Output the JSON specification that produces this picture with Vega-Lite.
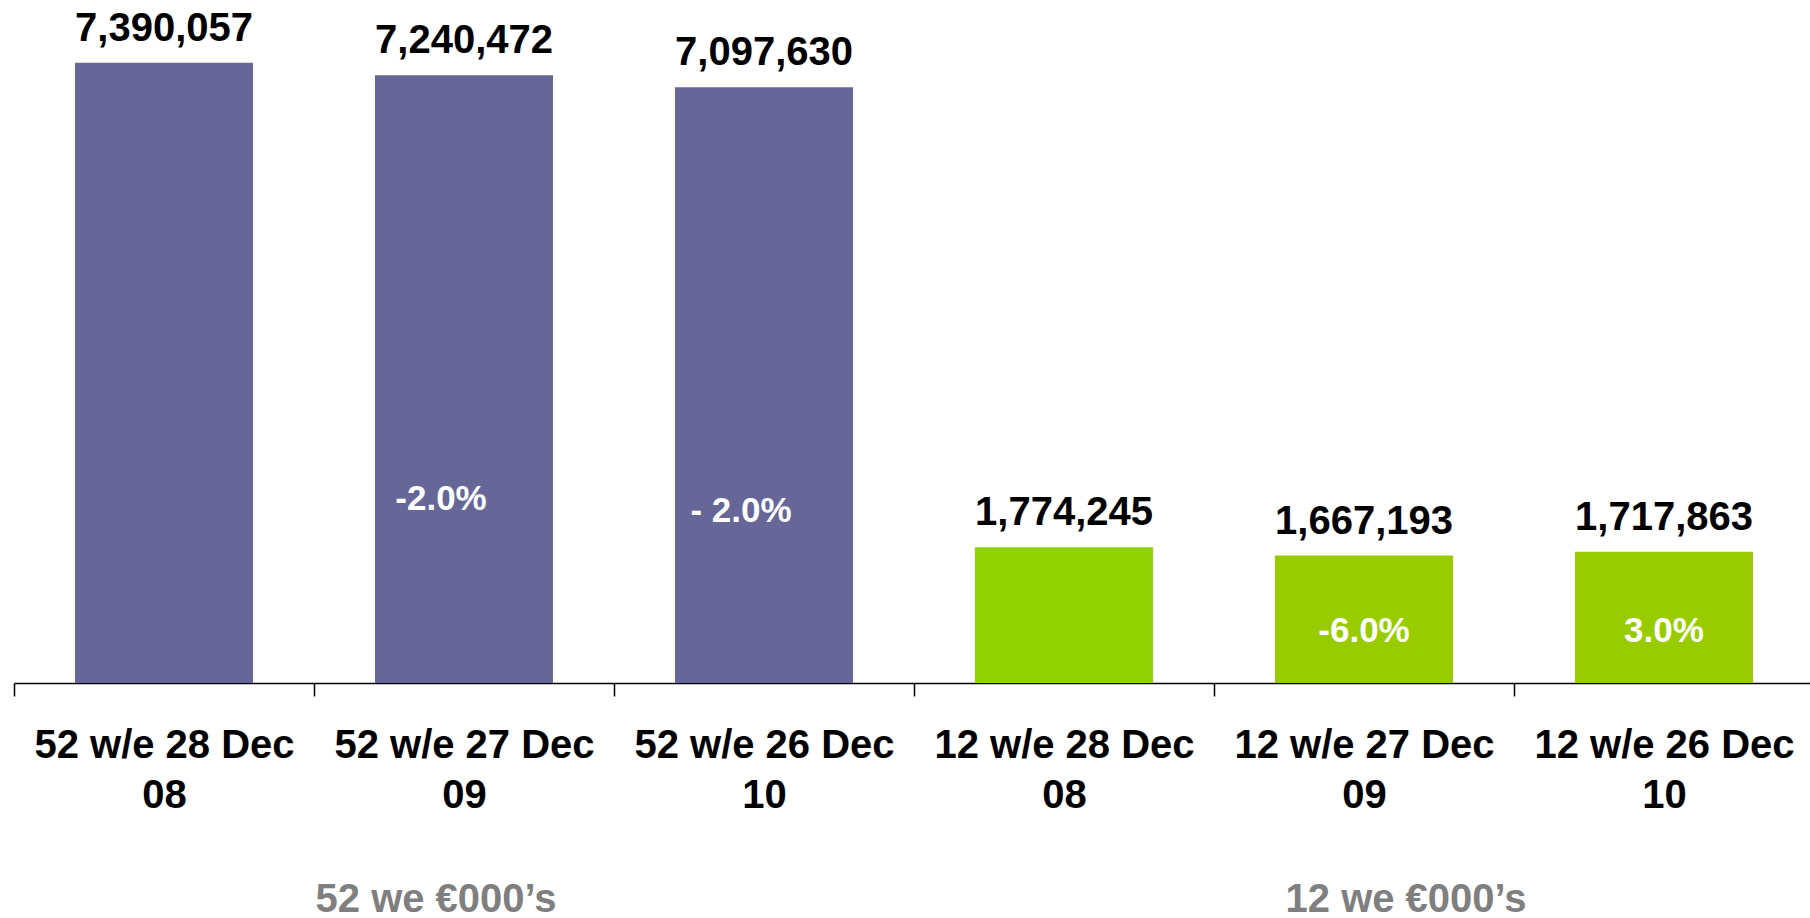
{
  "$schema": "https://vega.github.io/schema/vega-lite/v6.json",
  "width": 1800,
  "height": 683,
  "padding": {"left": 13, "top": 0, "right": 0, "bottom": 0},
  "background": "white",
  "config": {"view": {"stroke": null}, "font": "Liberation Sans"},
  "datasets": {
    "bars": [
      {"cat": "52 w/e 28 Dec|08", "period": "52", "value": 7390057, "change": ""},
      {"cat": "52 w/e 27 Dec|09", "period": "52", "value": 7240472, "change": "-2.0%"},
      {"cat": "52 w/e 26 Dec|10", "period": "52", "value": 7097630, "change": "- 2.0%"},
      {"cat": "12 w/e 28 Dec|08", "period": "12", "value": 1774245, "change": ""},
      {"cat": "12 w/e 27 Dec|09", "period": "12", "value": 1667193, "change": "-6.0%"},
      {"cat": "12 w/e 26 Dec|10", "period": "12", "value": 1717863, "change": "3.0%"}
    ],
    "groups": [
      {"cat": "52 w/e 27 Dec|09", "block": "52", "title": "52 we €000’s"},
      {"cat": "12 w/e 27 Dec|09", "block": "12", "title": "12 we €000’s"}
    ]
  },
  "encoding": {
    "x": {
      "field": "cat",
      "type": "nominal",
      "sort": null,
      "scale": {
        "domain": ["52 w/e 28 Dec|08", "52 w/e 27 Dec|09", "52 w/e 26 Dec|10", "12 w/e 28 Dec|08", "12 w/e 27 Dec|09", "12 w/e 26 Dec|10"],
        "paddingInner": 0,
        "paddingOuter": 0
      },
      "axis": {
        "title": null,
        "labelExpr": "isString(datum.value) ? split(datum.value, '|') : ''",
        "labelAngle": 0,
        "labelFont": "Liberation Sans",
        "labelFontSize": 40,
        "labelFontWeight": "bold",
        "labelColor": "#000000",
        "labelLineHeight": 50,
        "labelBaseline": "top",
        "labelPadding": 29,
        "labelOverlap": false,
        "labelBound": false,
        "labelLimit": 0,
        "tickBand": "extent",
        "tickSize": 13,
        "tickColor": "#000000",
        "tickWidth": 1.5,
        "domainColor": "#000000",
        "domainWidth": 1.5,
        "grid": false
      }
    }
  },
  "layer": [
    {
      "data": {"name": "bars"},
      "transform": [{"filter": "datum.period == '52'"}],
      "encoding": {
        "y": {"field": "value", "type": "quantitative", "scale": {"domain": [0, 8137000]}, "axis": null}
      },
      "layer": [
        {"mark": {"type": "bar", "width": {"band": 0.5933}, "color": "#666699"}},
        {
          "mark": {"type": "text", "font": "Liberation Sans", "fontSize": 40, "fontWeight": "bold", "color": "#000000", "baseline": "alphabetic", "align": "center", "dy": -22},
          "encoding": {"text": {"field": "value", "type": "quantitative", "format": ","}}
        },
        {
          "transform": [{"filter": "datum.change != ''"}],
          "mark": {"type": "text", "font": "Liberation Sans", "fontSize": 35, "fontWeight": "bold", "color": "#ffffff", "baseline": "alphabetic", "align": "center", "dx": -23, "dy": 435},
          "encoding": {"text": {"field": "change", "type": "nominal"}}
        }
      ]
    },
    {
      "data": {"name": "bars"},
      "transform": [{"filter": "datum.period == '12'"}],
      "encoding": {
        "y": {"field": "value", "type": "quantitative", "scale": {"domain": [0, 8931000]}, "axis": null}
      },
      "layer": [
        {
          "mark": {"type": "bar", "width": {"band": 0.5933}},
          "encoding": {
            "color": {
              "field": "cat",
              "type": "nominal",
              "scale": {"domain": ["12 w/e 28 Dec|08", "12 w/e 27 Dec|09", "12 w/e 26 Dec|10"], "range": ["#90D300", "#99CC00", "#99CC00"]},
              "legend": null
            }
          }
        },
        {
          "mark": {"type": "text", "font": "Liberation Sans", "fontSize": 40, "fontWeight": "bold", "color": "#000000", "baseline": "alphabetic", "align": "center", "dy": -22},
          "encoding": {"text": {"field": "value", "type": "quantitative", "format": ","}}
        },
        {
          "transform": [{"filter": "datum.change != ''"}],
          "mark": {"type": "text", "font": "Liberation Sans", "fontSize": 35, "fontWeight": "bold", "color": "#ffffff", "baseline": "alphabetic", "align": "center", "dy": -41},
          "encoding": {"y": {"datum": 0}, "text": {"field": "change", "type": "nominal"}}
        }
      ]
    },
    {
      "data": {"name": "groups"},
      "encoding": {
        "y": {"datum": 0, "type": "quantitative", "scale": {"domain": [0, 1]}, "axis": null},
        "text": {"field": "title", "type": "nominal"}
      },
      "layer": [
        {
          "transform": [{"filter": "datum.block == '52'"}],
          "mark": {"type": "text", "font": "Liberation Sans", "fontSize": 40, "fontWeight": "bold", "color": "#7F7F7F", "baseline": "alphabetic", "align": "center", "dx": -28, "dy": 229}
        },
        {
          "transform": [{"filter": "datum.block == '12'"}],
          "mark": {"type": "text", "font": "Liberation Sans", "fontSize": 40, "fontWeight": "bold", "color": "#7F7F7F", "baseline": "alphabetic", "align": "center", "dx": 42, "dy": 229}
        }
      ]
    }
  ],
  "resolve": {"scale": {"y": "independent"}}
}
